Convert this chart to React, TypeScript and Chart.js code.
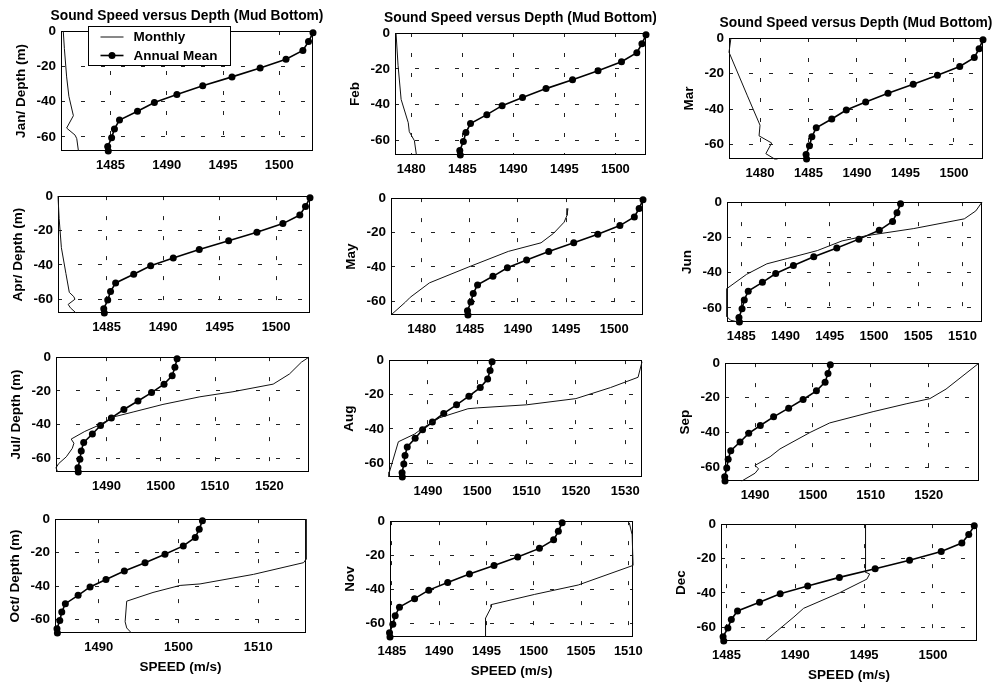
import React, { useEffect, useRef } from 'react';
import { Chart, registerables } from 'chart.js';

Chart.register(...registerables);

// ---------------- DATA ----------------
const months = ['Jan', 'Feb', 'Mar', 'Apr', 'May', 'Jun', 'Jul', 'Aug', 'Sep', 'Oct', 'Nov', 'Dec'];
const yAxisTitles = ['Jan/ Depth (m)', 'Feb', 'Mar', 'Apr/ Depth (m)', 'May', 'Jun', 'Jul/ Depth (m)', 'Aug', 'Sep', 'Oct/ Depth (m)', 'Nov', 'Dec'];
const panelTitle = 'Sound Speed versus Depth (Mud Bottom)';
const xAxisTitle = 'SPEED (m/s)';
const legendLabels = ['Monthly', 'Annual Mean'];

// Annual mean profile (same in every panel)
const depthLevels = [-1, -6, -11, -16, -21, -26, -31, -36, -40.5, -45.5, -50.5, -55.5, -60.5, -65.5, -68];
const annualMeanSpeed = [1503.0, 1502.6, 1502.1, 1500.6, 1498.3, 1495.8, 1493.2, 1490.9, 1488.9, 1487.4, 1485.8, 1485.35, 1485.1, 1484.75, 1484.8];

// Monthly profiles
const janSpeed = [1480.8, 1480.9, 1481.1, 1481.3, 1481.7, 1481.1, 1481.85, 1482.0, 1482.15];
const janDepth = [0, -10, -26, -37, -48, -55, -59, -61, -68];
const febSpeed = [1478.5, 1478.7, 1479.0, 1479.7, 1479.8, 1480.3, 1480.5];
const febDepth = [0, -18, -37, -50, -55, -60, -68];
const marSpeed = [1477.0, 1476.8, 1478.7, 1480.0, 1479.9, 1481.2, 1480.6, 1481.5, 1481.8];
const marDepth = [0, -8, -32.5, -49, -55, -59, -65, -68, -68];
const aprSpeed = [1480.7, 1480.8, 1481.0, 1481.4, 1481.7, 1482.1, 1482.2, 1481.6, 1481.8, 1482.3];
const aprDepth = [0, -13, -30, -45, -56, -58.5, -60, -63, -65, -68];
const maySpeed = [1495.2, 1495.1, 1494.8, 1493.7, 1492.4, 1489.0, 1484.9, 1480.8, 1478.8, 1478.3, 1476.9];
const mayDepth = [-6, -10, -14, -20.5, -26, -31, -40, -49.3, -57.7, -60.5, -67.5];
const junSpeed = [1512.2, 1511.5, 1510.2, 1504.5, 1499.2, 1496.4, 1493.6, 1490.2, 1487.9, 1485.6, 1483.4, 1483.4, 1483.8, 1484.7];
const junDepth = [0, -5, -9.5, -15, -19, -22, -27.5, -32, -35, -41, -49, -65, -67, -68];
const julSpeed = [1527.3, 1525.9, 1523.7, 1520.7, 1513.3, 1507.2, 1500.4, 1494.9, 1491.2, 1488.8, 1486.0, 1483.5, 1484.0, 1483.7, 1482.6, 1481.2, 1480.7, 1481.0];
const julDepth = [0, -3, -10, -16, -20.5, -23.5, -28, -32.5, -35.5, -40, -44, -48.5, -51, -54, -59, -63, -65.5, -68];
const augSpeed = [1533.4, 1532.6, 1527.0, 1520.0, 1510.0, 1500.0, 1498.1, 1492.4, 1489.0, 1487.3, 1484.0, 1482.2, 1482.1];
const augDepth = [-1, -10, -16, -22.4, -26, -27.8, -28.3, -33.5, -39.4, -43, -47.5, -65, -68];
const sepSpeed = [1528.7, 1523.0, 1520.2, 1516.1, 1510.4, 1502.9, 1499.5, 1494.3, 1492.6, 1490.0, 1490.6, 1490.0, 1487.7];
const sepDepth = [0, -15, -20.5, -23.5, -28, -34.5, -40, -49.5, -54, -59, -61, -63.5, -68];
const octSpeed = [1516.0, 1516.0, 1515.7, 1509.4, 1502.7, 1500.2, 1496.8, 1493.5, 1493.3, 1493.5, 1494.1];
const octDepth = [0, -24, -26, -33, -38.7, -39.6, -43.8, -49, -61.3, -65, -68];
const novSpeed = [1510.1, 1510.4, 1510.5, 1504.7, 1500.1, 1495.5, 1495.5, 1494.9, 1494.9, 1494.9];
const novDepth = [-1, -8, -26, -37.5, -43, -49, -50.5, -57, -60, -68];
const decSpeed = [1495.1, 1495.1, 1495.4, 1495.2, 1493.2, 1490.6, 1489.9, 1488.7, 1487.8];
const decDepth = [0, -28, -29, -32, -40, -49, -54, -62, -68];

const monthlySpeeds = [janSpeed, febSpeed, marSpeed, aprSpeed, maySpeed, junSpeed, julSpeed, augSpeed, sepSpeed, octSpeed, novSpeed, decSpeed];
const monthlyDepths = [janDepth, febDepth, marDepth, aprDepth, mayDepth, junDepth, julDepth, augDepth, sepDepth, octDepth, novDepth, decDepth];

// Axis tick labels
const yTickValues = [0, -20, -40, -60];
const xTickValues = [
  [1485, 1490, 1495, 1500],
  [1480, 1485, 1490, 1495, 1500],
  [1480, 1485, 1490, 1495, 1500],
  [1485, 1490, 1495, 1500],
  [1480, 1485, 1490, 1495, 1500],
  [1485, 1490, 1495, 1500, 1505, 1510],
  [1490, 1500, 1510, 1520],
  [1490, 1500, 1510, 1520, 1530],
  [1490, 1500, 1510, 1520],
  [1490, 1500, 1510],
  [1485, 1490, 1495, 1500, 1505, 1510],
  [1485, 1490, 1495, 1500],
];
const xMinValues = [1480.6, 1478.4, 1476.8, 1480.7, 1476.8, 1483.4, 1480.7, 1482.1, 1484.8, 1484.5, 1484.8, 1484.6];
const xMaxValues = [1503.0, 1503.0, 1503.0, 1503.0, 1503.0, 1512.2, 1527.3, 1533.4, 1528.7, 1516.0, 1510.5, 1503.2];
const yMinValue = -68;
const yMaxValue = 0;

// ---------------- LAYOUT ----------------
// plot areas [left, top, right, bottom] in page pixels
const panelRects = [
  [61, 31, 313, 151], [395, 33, 646, 155], [729, 38, 983, 159],
  [58, 193, 310, 313], [391, 195, 643, 315], [727, 199, 982, 322],
  [56, 354, 309, 472], [389, 357, 642, 477], [725, 360, 979, 481],
  [55, 516, 306, 633], [390, 518, 640, 637], [721, 521, 977, 641],
];
const LEFT_PAD = 8;
const Y_AXIS_W = 52;
const RIGHT_PAD = 10;
const X_AXIS_H = 46;
const TITLE_H = 26;
const TOP_PAD = 10;
const FONT = "'Liberation Sans', Arial, Helvetica, sans-serif";
const INK = '#000';

const boxPlugin = {
  id: 'axisBox',
  beforeDatasetsDraw(chart: any) {
    const { ctx, chartArea: a } = chart;
    ctx.save();
    ctx.strokeStyle = INK;
    ctx.lineWidth = 1;
    ctx.strokeRect(Math.round(a.left) + 0.5, Math.round(a.top) + 0.5, Math.round(a.right - a.left) - 1, Math.round(a.bottom - a.top) - 1);
    ctx.restore();
  },
};

const panelTitlePlugin = {
  id: 'panelTitle',
  afterDraw(chart: any) {
    const { ctx, chartArea: a } = chart;
    ctx.save();
    ctx.font = `bold 13.8px ${FONT}`;
    ctx.fillStyle = INK;
    ctx.textAlign = 'center';
    ctx.textBaseline = 'middle';
    ctx.fillText(panelTitle, (a.left + a.right) / 2, a.top - 15);
    ctx.restore();
  },
};

const boxLegendPlugin = {
  id: 'boxLegend',
  afterDraw(chart: any) {
    const { ctx, chartArea: a } = chart;
    const ds = chart.data.datasets;
    const bx = Math.round(a.left + 27) + 0.5;
    const by = Math.round(a.top - 5) + 0.5;
    const bw = 142;
    const bh = 39;
    ctx.save();
    ctx.fillStyle = '#fff';
    ctx.fillRect(bx, by, bw, bh);
    ctx.strokeStyle = INK;
    ctx.lineWidth = 1;
    ctx.strokeRect(bx, by, bw, bh);
    const rows = [by + 10.5, by + 29];
    ctx.font = `bold 13.5px ${FONT}`;
    ctx.textBaseline = 'middle';
    ctx.textAlign = 'left';
    ds.forEach((d: any, k: number) => {
      const y = rows[k];
      ctx.strokeStyle = d.borderColor;
      ctx.lineWidth = d.borderWidth;
      ctx.beginPath();
      ctx.moveTo(bx + 12, y);
      ctx.lineTo(bx + 35, y);
      ctx.stroke();
      if (d.pointRadius > 0) {
        ctx.fillStyle = d.backgroundColor;
        ctx.beginPath();
        ctx.arc(bx + 23.5, y, d.pointRadius, 0, Math.PI * 2);
        ctx.fill();
      }
      ctx.fillStyle = INK;
      ctx.fillText(d.label, bx + 45, y + 0.5);
    });
    ctx.restore();
  },
};

function Panel({ index }: { index: number }) {
  const ref = useRef<HTMLCanvasElement | null>(null);
  const [l, t, r, b] = panelRects[index];
  const row = Math.floor(index / 3);
  const isTop = row === 0;
  const isBottom = row === 3;
  const topSpace = isTop ? TITLE_H : TOP_PAD;
  const width = LEFT_PAD + Y_AXIS_W + (r - l) + RIGHT_PAD;
  const height = topSpace + (b - t) + X_AXIS_H;
  const cLeft = l - LEFT_PAD - Y_AXIS_W;
  const cTop = t - topSpace;

  useEffect(() => {
    if (!ref.current) return;
    const monthlyPts = monthlySpeeds[index].map((s, k) => ({ x: s, y: monthlyDepths[index][k] }));
    const annualPts = annualMeanSpeed.map((s, k) => ({ x: s, y: depthLevels[k] }));
    const tickFont = { family: FONT, size: 13, weight: 'bold' as const };
    const extra: any[] = [boxPlugin];
    if (isTop) extra.push(panelTitlePlugin);
    if (index === 0) extra.push(boxLegendPlugin);
    const chart = new Chart(ref.current, {
      type: 'scatter',
      data: {
        datasets: [
          {
            label: legendLabels[0],
            data: monthlyPts,
            showLine: true,
            borderColor: '#111',
            backgroundColor: '#111',
            borderWidth: 1,
            pointRadius: 0,
            pointHoverRadius: 0,
            spanGaps: false,
            clip: 2,
          },
          {
            label: legendLabels[1],
            data: annualPts,
            showLine: true,
            borderColor: INK,
            backgroundColor: INK,
            borderWidth: 1.6,
            pointRadius: 3.5,
            pointHoverRadius: 3.5,
            pointBorderWidth: 0,
            clip: 8,
          },
        ] as any,
      },
      options: {
        animation: false,
        responsive: false,
        events: [],
        layout: { padding: { left: LEFT_PAD, right: RIGHT_PAD, top: topSpace, bottom: 0 } },
        plugins: {
          legend: { display: false },
          tooltip: { enabled: false },
          title: { display: false },
        },
        scales: {
          x: {
            type: 'linear',
            min: xMinValues[index],
            max: xMaxValues[index],
            afterBuildTicks: (s: any) => {
              s.ticks = xTickValues[index].map((v) => ({ value: v }));
            },
            afterFit: (s: any) => {
              s.height = X_AXIS_H;
            },
            grid: { color: '#222', lineWidth: 1, drawTicks: false },
            border: { display: false, dash: [4, 16] },
            ticks: {
              padding: 7,
              color: INK,
              font: tickFont,
              autoSkip: false,
              maxRotation: 0,
              callback: (v: any) => String(v),
            },
            title: {
              display: isBottom,
              text: xAxisTitle,
              color: INK,
              font: { family: FONT, size: 13.5, weight: 'bold' },
              padding: { top: 4, bottom: 4 },
            },
          },
          y: {
            type: 'linear',
            min: yMinValue,
            max: yMaxValue,
            afterBuildTicks: (s: any) => {
              s.ticks = yTickValues.map((v) => ({ value: v }));
            },
            afterFit: (s: any) => {
              s.width = Y_AXIS_W;
            },
            grid: { color: '#222', lineWidth: 1, drawTicks: false },
            border: { display: false, dash: [4, 16] },
            ticks: {
              padding: 5,
              color: INK,
              font: { family: FONT, size: 13.5, weight: 'bold' },
              autoSkip: false,
              callback: (v: any) => String(v),
            },
            title: {
              display: true,
              text: yAxisTitles[index],
              color: INK,
              font: { family: FONT, size: 13.5, weight: 'bold' },
              padding: { top: 4, bottom: 4 },
            },
          },
        },
      } as any,
      plugins: extra,
    });
    return () => chart.destroy();
  }, [index]);

  return (
    <canvas
      ref={ref}
      width={width}
      height={height}
      aria-label={`${months[index]} sound speed profile`}
      style={{ position: 'absolute', left: cLeft, top: cTop, width, height }}
    />
  );
}

export default function App() {
  return (
    <div
      style={{
        position: 'absolute',
        left: 0,
        top: 0,
        width: 1000,
        height: 685,
        background: '#fff',
        overflow: 'hidden',
      }}
    >
      {months.map((m, i) => (
        <Panel key={m} index={i} />
      ))}
    </div>
  );
}
